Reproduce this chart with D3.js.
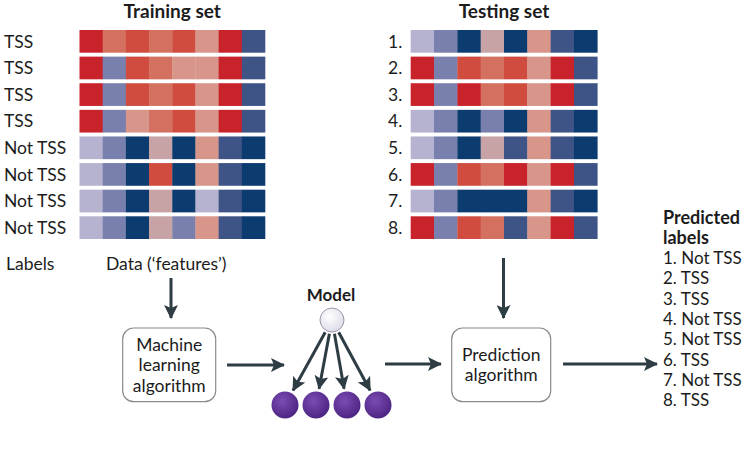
<!DOCTYPE html>
<html>
<head>
<meta charset="utf-8">
<script src="https://cdn.jsdelivr.net/npm/d3@7"></script>
<style>
  html, body { margin: 0; padding: 0; background: #fff; }
  svg { display: block; }
  text { font-family: Lato, "Open Sans", sans-serif; fill: #1c1c1c; }
</style>
</head>
<body>
<div id="chart"></div>
<script>
// ---------------- DATA ----------------
const featureIdx = [0, 1, 2, 3, 4, 5, 6, 7];
const rowIdx = [0, 1, 2, 3, 4, 5, 6, 7];
const trainLabels = ["TSS", "TSS", "TSS", "TSS", "Not TSS", "Not TSS", "Not TSS", "Not TSS"];
const trainData = [
  [4, 2, 3, 2, 3, 1, 4, -3],
  [4, -2, 3, 2, 1, 1, 4, -3],
  [4, -2, 3, 2, 3, 1, 4, -3],
  [4, -2, 1, 2, 3, 1, 4, -3],
  [-1, -2, -4, 0, -4, 1, -3, -4],
  [-1, -2, -4, 3, -4, 1, -3, -4],
  [-1, -2, -4, 0, -4, -1, -3, -4],
  [-1, -2, -4, 0, -2, 1, -3, -4]
];
const testIds = ["1.", "2.", "3.", "4.", "5.", "6.", "7.", "8."];
const testData = [
  [-1, -2, -4, 0, -4, 1, -3, -4],
  [4, -2, 3, 2, 3, 1, 4, -3],
  [4, -2, 4, 2, 3, 1, 4, -3],
  [-1, -2, -4, -2, -4, 1, -3, -4],
  [-1, -2, -4, 0, -3, 1, -3, -4],
  [4, -2, 3, 2, 4, 1, 4, -3],
  [-1, -2, -4, -4, -4, 1, -3, -4],
  [4, -2, 3, 2, -3, 1, 4, -3]
];
const predictedLabels = ["Not TSS", "TSS", "TSS", "Not TSS", "Not TSS", "TSS", "Not TSS", "TSS"];
const colorLevels = [-4, -3, -2, -1, 0, 1, 2, 3, 4];
const colorPalette = ["#0c3b70", "#3e5487", "#7a80ae", "#b5b3cf", "#c8a3a5", "#d8958a", "#d4705f", "#cf4c3f", "#c8222b"];
const trainerLines = ["Machine", "learning", "algorithm"];
const predictorLines = ["Prediction", "algorithm"];
const modelOutputs = [0, 1, 2, 3];

// ---------------- SETUP ----------------
const W = 751, H = 465;
const svg = d3.select("#chart").append("svg").attr("width", W).attr("height", H);
const color = d3.scaleOrdinal().domain(colorLevels).range(colorPalette);
const ink = "#2e3c44";

const defs = svg.append("defs");
defs.append("marker")
  .attr("id", "arrow").attr("markerUnits", "userSpaceOnUse")
  .attr("viewBox", "0 0 14 14").attr("refX", 13).attr("refY", 7)
  .attr("markerWidth", 14).attr("markerHeight", 14).attr("orient", "auto")
  .append("path").attr("d", "M0,0 L14,7 L0,14 L3,7 Z").attr("fill", ink);
const pg = defs.append("radialGradient").attr("id", "purple").attr("cx", "40%").attr("cy", "35%").attr("r", "70%");
pg.append("stop").attr("offset", "0%").attr("stop-color", "#7b4cb3");
pg.append("stop").attr("offset", "100%").attr("stop-color", "#4a2280");
const gg = defs.append("radialGradient").attr("id", "grey").attr("cx", "40%").attr("cy", "35%").attr("r", "70%");
gg.append("stop").attr("offset", "0%").attr("stop-color", "#ffffff");
gg.append("stop").attr("offset", "100%").attr("stop-color", "#dcd9e6");

const y = d3.scaleBand().domain(rowIdx).range([30, 239]).paddingInner(0.147);
const xTrain = d3.scaleBand().domain(featureIdx).range([79.5, 265]);
const xTest = d3.scaleBand().domain(featureIdx).range([410.7, 597.3]);

function heatmap(data, x) {
  const g = svg.append("g");
  data.forEach((row, r) => {
    g.selectAll(null).data(row).enter().append("rect")
      .attr("x", (d, i) => x(i)).attr("y", y(r))
      .attr("width", x.bandwidth() + 0.3).attr("height", y.bandwidth())
      .attr("fill", d => color(d));
  });
}
heatmap(trainData, xTrain);
heatmap(testData, xTest);

// titles
svg.append("text").attr("x", (79.5 + 265) / 2).attr("y", 18).attr("text-anchor", "middle")
  .attr("font-weight", 700).attr("font-size", 19).text("Training set");
svg.append("text").attr("x", (410.7 + 597.3) / 2).attr("y", 18).attr("text-anchor", "middle")
  .attr("font-weight", 700).attr("font-size", 19).text("Testing set");

// row labels
svg.selectAll(null).data(trainLabels).enter().append("text")
  .attr("x", 4).attr("y", (d, i) => y(i) + y.bandwidth() / 2)
  .attr("dy", "0.36em").attr("font-size", 17.5).text(d => d);
svg.selectAll(null).data(testIds).enter().append("text")
  .attr("x", 388).attr("y", (d, i) => y(i) + y.bandwidth() / 2)
  .attr("dy", "0.36em").attr("font-size", 17.5).text(d => d);

svg.append("text").attr("x", 6).attr("y", 270).attr("font-size", 17.5).text("Labels");
svg.append("text").attr("x", 106).attr("y", 270).attr("font-size", 17.5).text("Data (\u2018features\u2019)");

// arrows
function arrow(x1, y1, x2, y2) {
  svg.append("line").attr("x1", x1).attr("y1", y1).attr("x2", x2).attr("y2", y2)
    .attr("stroke", ink).attr("stroke-width", 3).attr("marker-end", "url(#arrow)");
}
arrow(171, 278, 171, 318);
arrow(503.5, 258, 503.5, 318);
arrow(227, 365, 284, 365);
arrow(385, 364, 441, 364);
arrow(563, 364, 657, 364);

// boxes
function box(x0, y0, w, h, lines) {
  svg.append("rect").attr("x", x0).attr("y", y0).attr("width", w).attr("height", h)
    .attr("rx", 11).attr("fill", "#fff").attr("stroke", "#8a8a8a").attr("stroke-width", 1.2);
  const n = lines.length, lh = 20.5;
  svg.selectAll(null).data(lines).enter().append("text")
    .attr("x", x0 + w / 2).attr("y", (d, i) => y0 + h / 2 + (i - (n - 1) / 2) * lh)
    .attr("dy", "0.36em").attr("text-anchor", "middle").attr("font-size", 17.5).text(d => d);
}
box(122.7, 328, 93, 73.7, trainerLines);
box(451.7, 328, 99, 73.7, predictorLines);

// model
svg.append("text").attr("x", 331).attr("y", 301).attr("text-anchor", "middle")
  .attr("font-weight", 700).attr("font-size", 17).text("Model");
const topC = { x: 332, y: 320, r: 12 };
const xOut = d3.scalePoint().domain(modelOutputs).range([285, 378]);
const outY = 405, outR = 13.5;
modelOutputs.forEach(i => {
  const dx = xOut(i) - topC.x, dy = outY - topC.y, L = Math.hypot(dx, dy);
  const ux = dx / L, uy = dy / L;
  arrow(topC.x + ux * (topC.r + 2), topC.y + uy * (topC.r + 2),
        xOut(i) - ux * (outR + 3), outY - uy * (outR + 3));
});
svg.append("circle").attr("cx", topC.x).attr("cy", topC.y).attr("r", topC.r)
  .attr("fill", "url(#grey)").attr("stroke", "#9a98a8").attr("stroke-width", 1);
svg.selectAll(null).data(modelOutputs).enter().append("circle")
  .attr("cx", d => xOut(d)).attr("cy", outY).attr("r", outR).attr("fill", "url(#purple)");

// predicted labels
svg.append("text").attr("x", 663).attr("y", 224).attr("font-weight", 700).attr("font-size", 18).text("Predicted");
svg.append("text").attr("x", 663).attr("y", 244).attr("font-weight", 700).attr("font-size", 18).text("labels");
svg.selectAll(null).data(predictedLabels).enter().append("text")
  .attr("x", 663).attr("y", (d, i) => 258 + i * 20.3).attr("dy", "0.36em")
  .attr("font-size", 17).text((d, i) => (i + 1) + ". " + d);
</script>
</body>
</html>
